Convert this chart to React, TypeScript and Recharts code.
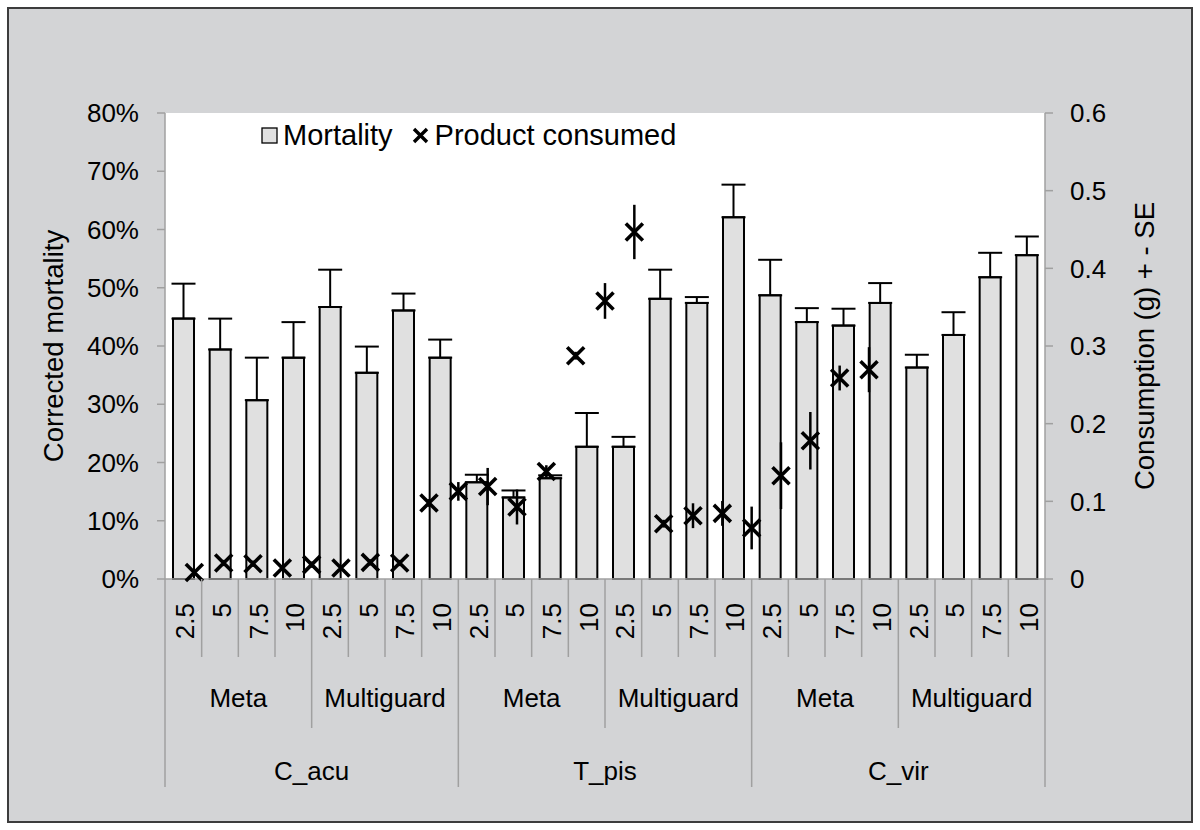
import React from 'react';
import { ComposedChart, Bar, Scatter, XAxis, YAxis, ErrorBar, CartesianGrid, Legend } from 'recharts';

// ---------- data ----------
const doseLabels = [
  '2.5', '5', '7.5', '10', '2.5', '5', '7.5', '10',
  '2.5', '5', '7.5', '10', '2.5', '5', '7.5', '10',
  '2.5', '5', '7.5', '10', '2.5', '5', '7.5', '10',
];
const productLabels = ['Meta', 'Multiguard', 'Meta', 'Multiguard', 'Meta', 'Multiguard'];
const speciesLabels = ['C_acu', 'T_pis', 'C_vir'];

const mortality = [
  0.447, 0.394, 0.307, 0.380, 0.467, 0.354, 0.461, 0.380,
  0.166, 0.140, 0.173, 0.227, 0.227, 0.481, 0.474, 0.621,
  0.487, 0.441, 0.435, 0.474, 0.363, 0.419, 0.518, 0.556,
];
const mortalitySE = [
  0.060, 0.053, 0.073, 0.061, 0.064, 0.045, 0.029, 0.031,
  0.013, 0.012, 0.005, 0.058, 0.017, 0.050, 0.010, 0.056,
  0.061, 0.024, 0.029, 0.034, 0.022, 0.039, 0.042, 0.032,
];
const consumption = [
  0.0085, 0.0206, 0.0197, 0.0142, 0.0185, 0.0142, 0.0214, 0.0206,
  0.0979, 0.1128, 0.119, 0.0927, 0.1385, 0.2875, 0.358, 0.4468,
  0.0712, 0.0815, 0.0845, 0.0657, 0.133, 0.178, 0.2588, 0.2695,
];
const consumptionSE = [
  0.003, 0.004, 0.004, 0.003, 0.004, 0.003, 0.004, 0.004,
  0.005, 0.012, 0.024, 0.0225, 0.008, 0.005, 0.023, 0.035,
  0.005, 0.016, 0.016, 0.0275, 0.043, 0.037, 0.016, 0.029,
];
const mortalityTicks = [0, 0.1, 0.2, 0.3, 0.4, 0.5, 0.6, 0.7, 0.8];
const consumptionTicks = [0, 0.1, 0.2, 0.3, 0.4, 0.5, 0.6];

// ---------- layout / style ----------
const FONT = '"Liberation Sans", Arial, Helvetica, sans-serif';
const FS = 26;
const LEGEND_FS = 29;
const TITLE_FS = 27.5;
const CHART_W = 1182;
const CHART_H = 812;
const M_TOP = 104;
const LEFT_W = 156;
const RIGHT_W = 146;
const X_H = 242;
const PLOT_W = CHART_W - LEFT_W - RIGHT_W;
const PLOT_H = CHART_H - M_TOP - X_H;
const CAT_W = PLOT_W / doseLabels.length;
const POS_SLOTS = 30; // secondary (hidden) axis on which the consumption markers sit
const AXIS_GRAY = '#a0a0a0';
const BAR_FILL = '#e0e0e0';

const data = doseLabels.map((d, i) => ({
  idx: i,
  dose: d,
  pos: i + 1,
  mort: mortality[i],
  mortErr: [0, mortalitySE[i]],
  cons: consumption[i],
  consErr: consumptionSE[i],
}));

const CategoryTick = (props: any) => {
  const { x, y, index, payload } = props;
  const half = CAT_W / 2;
  const lenFor = (k: number) => (k % 8 === 0 ? 208 : k % 4 === 0 ? 149 : 78);
  const lx = x + 2;
  const ly = y + 24;
  return (
    <g>
      {index === 0 && (
        <line x1={x - half} x2={x - half} y1={y} y2={y + lenFor(0)} stroke={AXIS_GRAY} strokeWidth={1.5} />
      )}
      <line x1={x + half} x2={x + half} y1={y} y2={y + lenFor(index + 1)} stroke={AXIS_GRAY} strokeWidth={1.5} />
      <text
        x={lx}
        y={ly}
        transform={`rotate(-90 ${lx} ${ly})`}
        textAnchor="end"
        dominantBaseline="central"
        fill="#000"
        fontSize={FS}
        fontFamily={FONT}
      >
        {payload.value}
      </text>
      {index % 4 === 1 && (
        <text x={x + half} y={y + 128} textAnchor="middle" fill="#000" fontSize={FS} fontFamily={FONT}>
          {productLabels[Math.floor(index / 4)]}
        </text>
      )}
      {index % 8 === 3 && (
        <text x={x + half} y={y + 201} textAnchor="middle" fill="#000" fontSize={FS} fontFamily={FONT}>
          {speciesLabels[Math.floor(index / 8)]}
        </text>
      )}
    </g>
  );
};

const XMark = (props: any) => {
  const { cx, cy } = props;
  if (cx == null || cy == null) return null;
  const s = 8.5;
  return (
    <path
      d={`M${cx - s},${cy - s}L${cx + s},${cy + s}M${cx - s},${cy + s}L${cx + s},${cy - s}`}
      stroke="#000"
      strokeWidth={3.6}
      fill="none"
    />
  );
};

const LeftTitle = () => {
  const cx = 44;
  const cy = M_TOP + PLOT_H / 2;
  return (
    <text
      x={cx}
      y={cy}
      transform={`rotate(-90 ${cx} ${cy})`}
      textAnchor="middle"
      dominantBaseline="central"
      fill="#000"
      fontSize={TITLE_FS}
      fontFamily={FONT}
    >
      Corrected mortality
    </text>
  );
};

const RightTitle = () => {
  const cx = 1135;
  const cy = M_TOP + PLOT_H / 2;
  return (
    <text
      x={cx}
      y={cy}
      transform={`rotate(-90 ${cx} ${cy})`}
      textAnchor="middle"
      dominantBaseline="central"
      fill="#000"
      fontSize={TITLE_FS}
      fontFamily={FONT}
    >
      Consumption (g) + - SE
    </text>
  );
};

const renderLegend = () => (
  <div
    style={{
      display: 'flex',
      alignItems: 'center',
      fontFamily: FONT,
      fontSize: LEGEND_FS,
      lineHeight: `${LEGEND_FS}px`,
      color: '#000',
      whiteSpace: 'nowrap',
    }}
  >
    <svg width={17} height={17} style={{ display: 'block' }}>
      <rect x={1} y={1} width={15} height={15} fill={BAR_FILL} stroke="#000" strokeWidth={1.3} />
    </svg>
    <span style={{ marginLeft: 5 }}>Mortality</span>
    <svg width={17} height={17} style={{ display: 'block', marginLeft: 19 }}>
      <path d="M2,2L15,15M2,15L15,2" stroke="#000" strokeWidth={3.4} fill="none" />
    </svg>
    <span style={{ marginLeft: 6 }}>Product consumed</span>
  </div>
);

export default function App() {
  return (
    <div
      style={{
        position: 'absolute',
        left: 7,
        top: 7,
        width: CHART_W + 4,
        height: CHART_H + 4,
        boxSizing: 'border-box',
        border: '2px solid #3c3c3c',
        background: '#d3d4d6',
      }}
    >
      <ComposedChart
        width={CHART_W}
        height={CHART_H}
        data={data}
        margin={{ top: M_TOP, right: 0, bottom: 0, left: 0 }}
      >
        <CartesianGrid xAxisId="cat" yAxisId="left" horizontal={false} vertical={false} fill="#ffffff" stroke="none" />
        <XAxis
          xAxisId="cat"
          dataKey="dose"
          type="category"
          interval={0}
          height={X_H}
          tickSize={0}
          tickMargin={0}
          tickLine={false}
          axisLine={{ stroke: AXIS_GRAY, strokeWidth: 1.5 }}
          tick={<CategoryTick />}
        />
        <XAxis xAxisId="pos" dataKey="pos" type="number" domain={[0, POS_SLOTS]} hide allowDataOverflow />
        <YAxis
          yAxisId="left"
          orientation="left"
          width={LEFT_W}
          domain={[0, 0.8]}
          ticks={mortalityTicks}
          tickFormatter={(v: number) => `${Math.round(v * 100)}%`}
          tickSize={8}
          tickMargin={18}
          tickLine={{ stroke: AXIS_GRAY, strokeWidth: 1.5 }}
          axisLine={{ stroke: AXIS_GRAY, strokeWidth: 1.5 }}
          tick={{ fill: '#000', fontSize: FS, fontFamily: FONT }}
          label={LeftTitle}
        />
        <YAxis
          yAxisId="right"
          orientation="right"
          width={RIGHT_W}
          domain={[0, 0.6]}
          ticks={consumptionTicks}
          tickFormatter={(v: number) => String(v)}
          tickSize={8}
          tickMargin={17}
          tickLine={{ stroke: AXIS_GRAY, strokeWidth: 1.5 }}
          axisLine={{ stroke: AXIS_GRAY, strokeWidth: 1.5 }}
          tick={{ fill: '#000', fontSize: FS, fontFamily: FONT }}
          label={RightTitle}
        />
        <Bar
          xAxisId="cat"
          yAxisId="left"
          dataKey="mort"
          name="Mortality"
          fill={BAR_FILL}
          stroke="#000"
          strokeWidth={2}
          barSize={21}
          isAnimationActive={false}
        >
          <ErrorBar dataKey="mortErr" direction="y" width={12} stroke="#000" strokeWidth={2} />
        </Bar>
        <Scatter
          xAxisId="pos"
          yAxisId="right"
          data={data}
          dataKey="cons"
          name="Product consumed"
          shape={XMark}
          isAnimationActive={false}
        >
          <ErrorBar dataKey="consErr" direction="y" width={0} stroke="#000" strokeWidth={2.5} />
        </Scatter>
        <Legend
          layout="horizontal"
          verticalAlign="middle"
          align="center"
          content={renderLegend}
          wrapperStyle={{ left: 252, top: 112, width: 'auto', height: 'auto' }}
        />
      </ComposedChart>
    </div>
  );
}
